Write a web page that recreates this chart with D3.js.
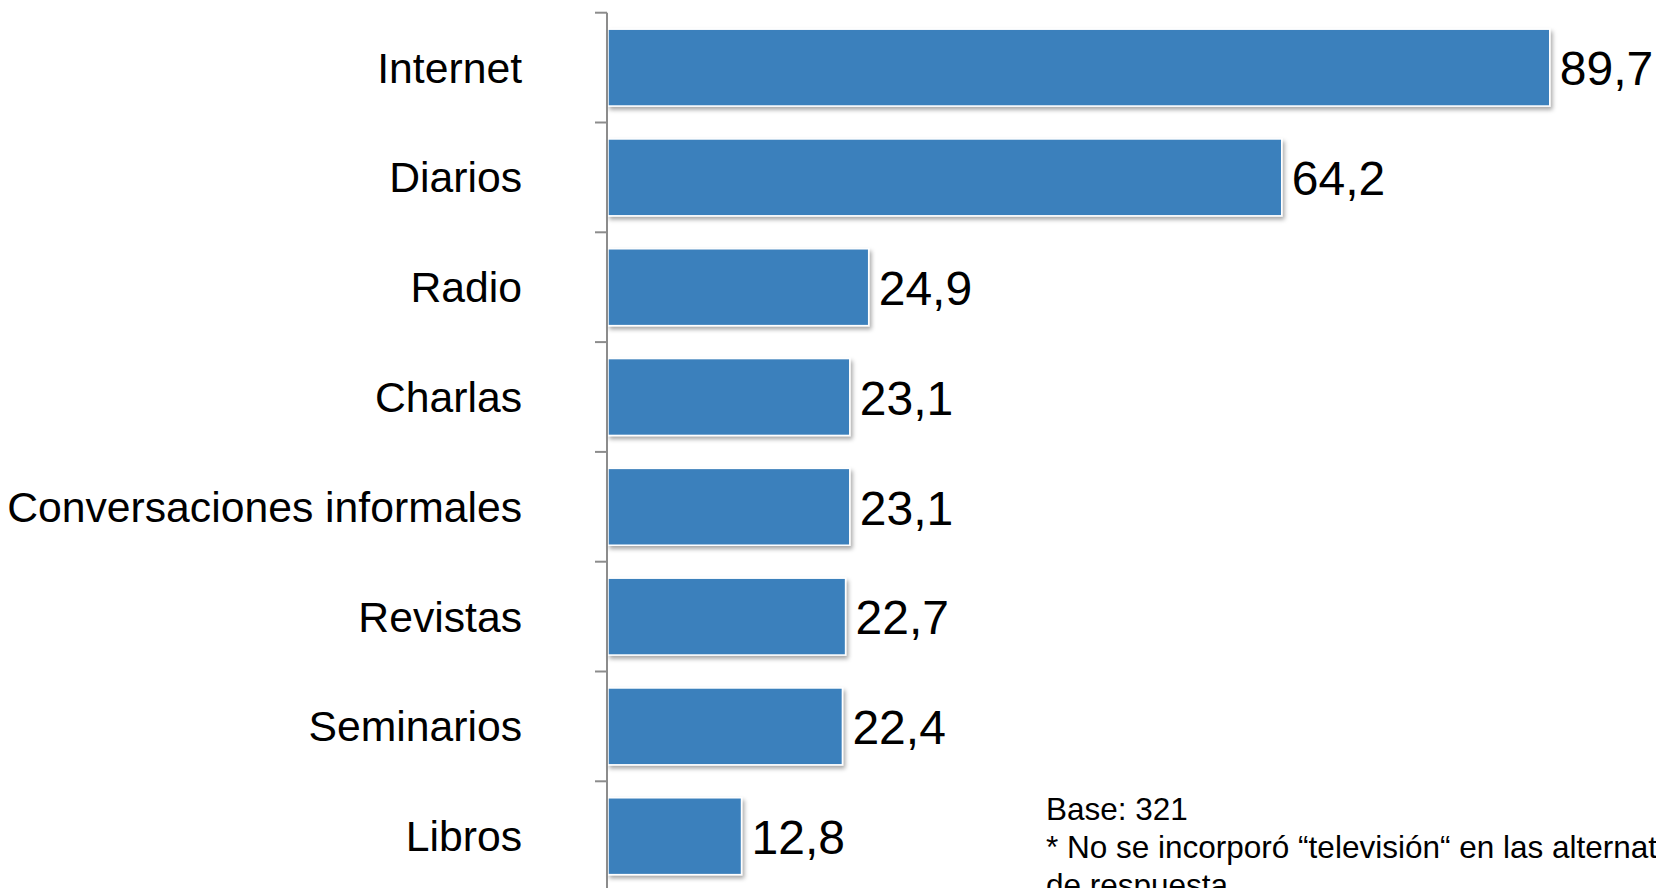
<!DOCTYPE html>
<html>
<head>
<meta charset="utf-8">
<script src="https://cdn.jsdelivr.net/npm/d3@7"></script>
<style>
  html, body { margin: 0; padding: 0; background: #ffffff; overflow: hidden; }
  svg { display: block; font-family: "Liberation Sans", Arial, sans-serif; }
</style>
</head>
<body>
<svg id="chart" width="1656" height="888"></svg>
<script>
const categories = ["Internet", "Diarios", "Radio", "Charlas", "Conversaciones informales", "Revistas", "Seminarios", "Libros"];
const values = [89.7, 64.2, 24.9, 23.1, 23.1, 22.7, 22.4, 12.8];
const valueLabels = ["89,7", "64,2", "24,9", "23,1", "23,1", "22,7", "22,4", "12,8"];
const footnoteLines = ["Base: 321", "* No se incorporó “televisión“ en las alternativas", "de respuesta"];

const W = 1656, H = 888;
const svg = d3.select("#chart");

const defs = svg.append("defs");
const f = defs.append("filter").attr("id", "shadow")
  .attr("x", "-5%").attr("y", "-10%").attr("width", "115%").attr("height", "130%");
f.append("feDropShadow").attr("dx", 2).attr("dy", 3).attr("stdDeviation", 2)
  .attr("flood-color", "#000").attr("flood-opacity", 0.35);

const x0 = 607;
const x = d3.scaleLinear().domain([0, 100]).range([x0, x0 + 1051]);
const yTop = 12.7, step = 109.8;
const y = d3.scaleBand().domain(categories)
  .range([yTop, yTop + step * categories.length])
  .paddingInner(0.3).paddingOuter(0.15);

// bars
svg.append("g").selectAll("rect").data(categories).join("rect")
  .attr("x", x(0) + 1)
  .attr("y", d => y(d))
  .attr("width", (d, i) => x(values[i]) - x(0) - 1)
  .attr("height", y.bandwidth())
  .attr("fill", "#3b80bc")
  .attr("stroke", "#ffffff")
  .attr("stroke-width", 1.5)
  .attr("filter", "url(#shadow)");

// axis line and ticks
const axis = svg.append("g");
axis.append("line")
  .attr("x1", x0).attr("x2", x0)
  .attr("y1", yTop).attr("y2", H + 10)
  .attr("stroke", "#8c8c8c").attr("stroke-width", 2);
const tickYs = d3.range(categories.length + 1).map(i => yTop + i * y.step());
axis.selectAll("line.tick").data(tickYs).join("line")
  .attr("class", "tick")
  .attr("x1", x0 - 12).attr("x2", x0)
  .attr("y1", d => d).attr("y2", d => d)
  .attr("stroke", "#8c8c8c").attr("stroke-width", 2);

// category labels
svg.append("g").selectAll("text").data(categories).join("text")
  .attr("x", 522)
  .attr("y", d => y(d) + y.bandwidth() / 2)
  .attr("dy", "0.35em")
  .attr("text-anchor", "end")
  .attr("font-size", 42.7)
  .attr("fill", "#000")
  .text(d => d);

// value labels
svg.append("g").selectAll("text").data(categories).join("text")
  .attr("x", (d, i) => x(values[i]) + 10)
  .attr("y", d => y(d) + y.bandwidth() / 2)
  .attr("dy", "0.37em")
  .attr("font-size", 48)
  .attr("fill", "#000")
  .text((d, i) => valueLabels[i]);

// footnote
svg.append("g").selectAll("text").data(footnoteLines).join("text")
  .attr("x", 1046)
  .attr("y", (d, i) => 820 + i * 38)
  .attr("font-size", 31.5)
  .attr("fill", "#000")
  .text(d => d);
</script>
</body>
</html>
